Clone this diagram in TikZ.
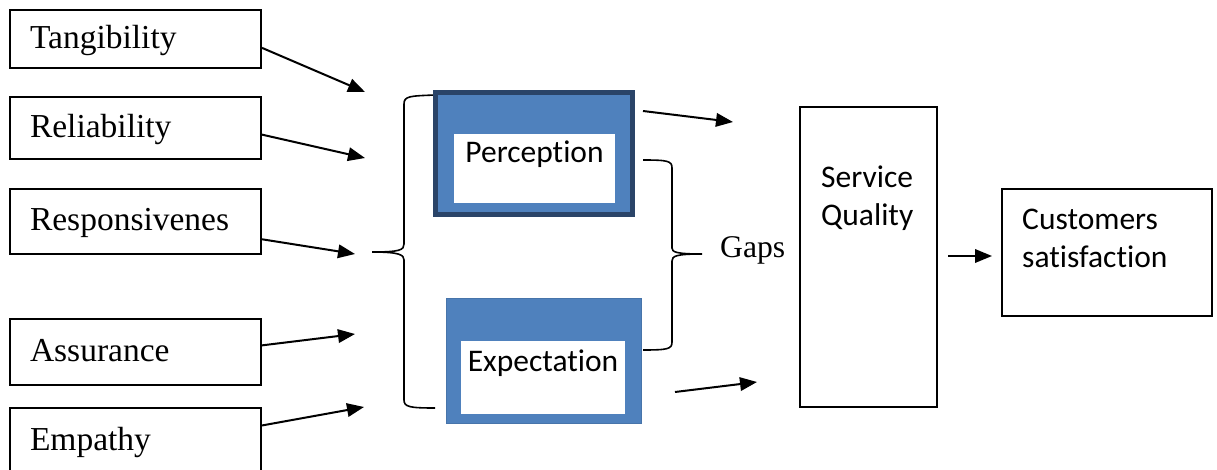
\documentclass[tikz,border=0pt]{standalone}
\usepackage{fontspec}
\setmainfont{Liberation Serif}
\newfontfamily\calibri[Ligatures=NoCommon]{Carlito}
\usetikzlibrary{arrows.meta}

\definecolor{officeblue}{HTML}{4F81BD}
\definecolor{navyline}{HTML}{2A4468}
\newcommand{\factorfont}{\fontsize{33.5}{40}\selectfont}
\newcommand{\bodyfont}{\calibri\fontsize{31.5}{38}\selectfont}

\begin{document}
\begin{tikzpicture}[x=1pt,y=-1pt,
  factor/.style={draw,line width=2pt,text width=211pt,inner xsep=20pt,align=left,
    text height=24pt,text depth=5pt,font=\factorfont},
  plain/.style={draw,line width=2pt},
  arr/.style={line width=2pt,-{Triangle[length=17pt,width=13.5pt]}},
  bracket/.style={line width=1.6pt}]
\clip (0,0) rectangle (1217,470);

% five dimensions
\node[factor,minimum height=58pt] (tang) at (135.5,39) {Tangibility};
\node[factor,minimum height=62pt] (reli) at (135.5,128) {Reliability};
\node[factor,minimum height=65pt] (resp) at (135.5,221.5) {Responsivenes};
\node[factor,minimum height=66pt] (assu) at (135.5,352) {Assurance};
\node[factor,minimum height=66pt] (empa) at (135.5,441) {Empathy};

\coordinate (t1) at (365,92);
\coordinate (t2) at (365,158);
\coordinate (t3) at (355,254);
\coordinate (t4) at (355,334);
\coordinate (t5) at (364,407);

\draw[arr] (tang.-4) -- (t1);
\draw[arr] (reli.-3) -- (t2);
\draw[arr] (resp.-8) -- (t3);
\draw[arr] (assu.3) -- (t4);
\draw[arr] (empa.7) -- (t5);

% left brace
\draw[bracket] (435,95) .. controls (410,96) and (404,96) .. (404,104) -- (404,244)
  .. controls (404,250) and (400,252) .. (372,252)
  .. controls (400,252) and (404,255) .. (404,260) -- (404,400)
  .. controls (404,407) and (410,408) .. (435,408);

% perception and expectation
\node[draw=navyline,line width=5pt,fill=officeblue,minimum width=197pt,minimum height=122pt] (percbox) at (534,153.5) {};
\node[fill=white,inner sep=0pt,minimum width=161pt,text height=29pt,text depth=40pt,font=\bodyfont] (perc) at (534.5,168.5) {Perception};
\node[draw=officeblue!90!black,line width=0.6pt,fill=officeblue,minimum width=195pt,minimum height=125pt] (expbox) at (543.5,360.5) {};
\node[fill=white,inner sep=0pt,minimum width=164pt,text height=30pt,text depth=43pt,font=\bodyfont] (exp) at (543,377.5) {Expectation};

% right brace
\draw[bracket] (643,160) .. controls (668,160) and (672,161) .. (672,168) -- (672,248)
  .. controls (672,252) and (676,254) .. (702,254)
  .. controls (676,254) and (672,256) .. (672,261) -- (672,342)
  .. controls (672,349) and (668,350) .. (643,350);
\node[anchor=base west,inner sep=0pt,font=\fontsize{31.6}{38}\selectfont] (gaps) at (720,258) {Gaps};

\coordinate (p1) at (643,111);
\coordinate (p2) at (733,122);
\coordinate (e1) at (675,392);
\coordinate (e2) at (757,382);
\draw[arr] (p1) -- (p2);
\draw[arr] (e1) -- (e2);

% service quality and satisfaction
\node[plain,minimum width=137pt,minimum height=300pt] (sq) at (868.5,257) {};
\node[anchor=north west,align=left,inner sep=0pt,font=\bodyfont] (sqtxt) at (821,166) {Service\\Quality};
\node[plain,minimum width=210pt,minimum height=127pt] (cs) at (1107,252.5) {};
\node[anchor=north west,align=left,inner sep=0pt,font=\bodyfont] (cstxt) at (1022,209) {Customers\\satisfaction};

\coordinate (s1) at (948,256);
\coordinate (s2) at (992,256);
\draw[arr] (s1) -- (s2);
\end{tikzpicture}
\end{document}
